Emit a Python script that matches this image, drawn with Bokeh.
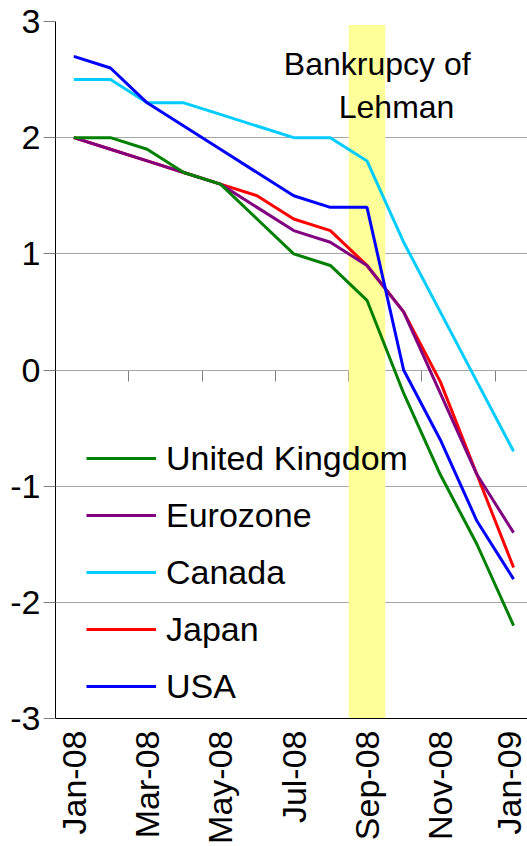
import numpy as np
from bokeh.plotting import figure
from bokeh.models import (Range1d, FixedTicker, LinearAxis, BoxAnnotation, Label,
                          Legend, LegendItem)
from bokeh.embed import file_html
from bokeh.resources import INLINE

# ---- data ----
months = ["Jan-08", "Feb-08", "Mar-08", "Apr-08", "May-08", "Jun-08", "Jul-08",
          "Aug-08", "Sep-08", "Oct-08", "Nov-08", "Dec-08", "Jan-09"]
uk = [2.0, 2.0, 1.9, 1.7, 1.6, 1.3, 1.0, 0.9, 0.6, -0.2, -0.9, -1.5, -2.2]
eurozone = [2.0, 1.9, 1.8, 1.7, 1.6, 1.4, 1.2, 1.1, 0.9, 0.5, -0.2, -0.9, -1.4]
canada = [2.5, 2.5, 2.3, 2.3, 2.2, 2.1, 2.0, 2.0, 1.8, 1.1, 0.5, -0.1, -0.7]
japan = [2.0, 1.9, 1.8, 1.7, 1.6, 1.5, 1.3, 1.2, 0.9, 0.5, -0.1, -0.9, -1.7]
usa = [2.7, 2.6, 2.3, 2.1, 1.9, 1.7, 1.5, 1.4, 1.4, 0.0, -0.6, -1.3, -1.8]
y_ticks = [-3, -2, -1, 0, 1, 2, 3]
y_tick_labels = ["-3", "-2", "-1", "0", "1", "2", "3"]
event_month = "Sep-08"
event_text = ["Bankrupcy of", "Lehman"]

FONT = "Liberation Sans"
x = list(range(len(months)))
label_ticks = x[::2]
boundaries = [i - 0.5 for i in label_ticks]
ev = months.index(event_month)

p = figure(width=527, height=846, x_range=Range1d(-0.5, 12.38), y_range=Range1d(-3, 3),
           output_backend="svg", toolbar_location=None,
           min_border_left=55, min_border_right=0, min_border_top=21, min_border_bottom=128)
p.outline_line_color = None
p.background_fill_color = "white"

# event band (under the lines, over grid)
band = BoxAnnotation(left=ev - 0.5, right=ev + 0.5, top=2.97, fill_color="#FFFF99",
                     fill_alpha=1.0, line_color=None, level="underlay")
p.add_layout(band)

# grid
p.xgrid.visible = False
p.ygrid.ticker = FixedTicker(ticks=y_ticks)
p.ygrid.grid_line_color = "#A6A6A6"
p.ygrid.grid_line_width = 1

# y axis
p.yaxis.ticker = FixedTicker(ticks=y_ticks)
p.yaxis.major_label_overrides = dict(zip(y_ticks, y_tick_labels))
p.yaxis.major_label_text_font = FONT
p.yaxis.major_label_text_font_size = "34px"
p.yaxis.major_label_text_color = "black"
p.yaxis.major_tick_out = 12
p.yaxis.major_tick_in = 0
p.yaxis.minor_tick_out = 0
p.yaxis.minor_tick_in = 0
p.yaxis.major_label_standoff = 3
p.yaxis.axis_line_color = "black"
p.yaxis.major_tick_line_color = "#808080"

# bottom axis (labels)
p.xaxis.ticker = FixedTicker(ticks=label_ticks)
p.xaxis.major_label_overrides = {i: months[i] for i in label_ticks}
p.xaxis.major_label_orientation = np.pi / 2
p.xaxis.major_label_text_font = FONT
p.xaxis.major_label_text_font_size = "34px"
p.xaxis.major_label_text_color = "black"
p.xaxis.major_tick_out = 0
p.xaxis.major_tick_in = 0
p.xaxis.minor_tick_out = 0
p.xaxis.minor_tick_in = 0
p.xaxis.major_label_standoff = 12
p.xaxis.axis_line_color = "black"

# zero-line axis with category boundary ticks (ticks pointing down)
zero_axis = LinearAxis(fixed_location=0, ticker=FixedTicker(ticks=boundaries),
                       major_label_overrides={b: "" for b in boundaries},
                       major_tick_out=0, major_tick_in=11,
                       minor_tick_out=0, minor_tick_in=0, axis_line_color="#7F7F7F",
                       major_tick_line_color="#7F7F7F", level="underlay")
p.add_layout(zero_axis, "above")

# lines
series = {
    "United Kingdom": (uk, "#008000"),
    "Eurozone": (eurozone, "#800080"),
    "Canada": (canada, "#00CCFF"),
    "Japan": (japan, "#FF0000"),
    "USA": (usa, "#0000FF"),
}
draw_order = ["Japan", "Eurozone", "Canada", "USA", "United Kingdom"]
rends = {}
for name in draw_order:
    vals, col = series[name]
    rends[name] = p.line(x, vals, line_color=col, line_width=3)

legend = Legend(items=[LegendItem(label=n, renderers=[rends[n]]) for n in series],
                location=(21, 2))
legend.label_text_font = FONT
legend.label_text_font_size = "34px"
legend.label_text_color = "black"
legend.glyph_width = 70
legend.glyph_height = 40
legend.label_height = 40
legend.spacing = 17
legend.label_standoff = 10
legend.padding = 10
legend.background_fill_alpha = 0
legend.border_line_alpha = 0
p.add_layout(legend)

# annotation
p.add_layout(Label(x=5.73, y=2.63, text=event_text[0], text_font=FONT,
                   text_font_size="32px", text_color="black", text_baseline="alphabetic"))
p.add_layout(Label(x=7.23, y=2.26, text=event_text[1], text_font=FONT,
                   text_font_size="32px", text_color="black", text_baseline="alphabetic"))

open("out.html", "w").write(file_html(p, INLINE))
